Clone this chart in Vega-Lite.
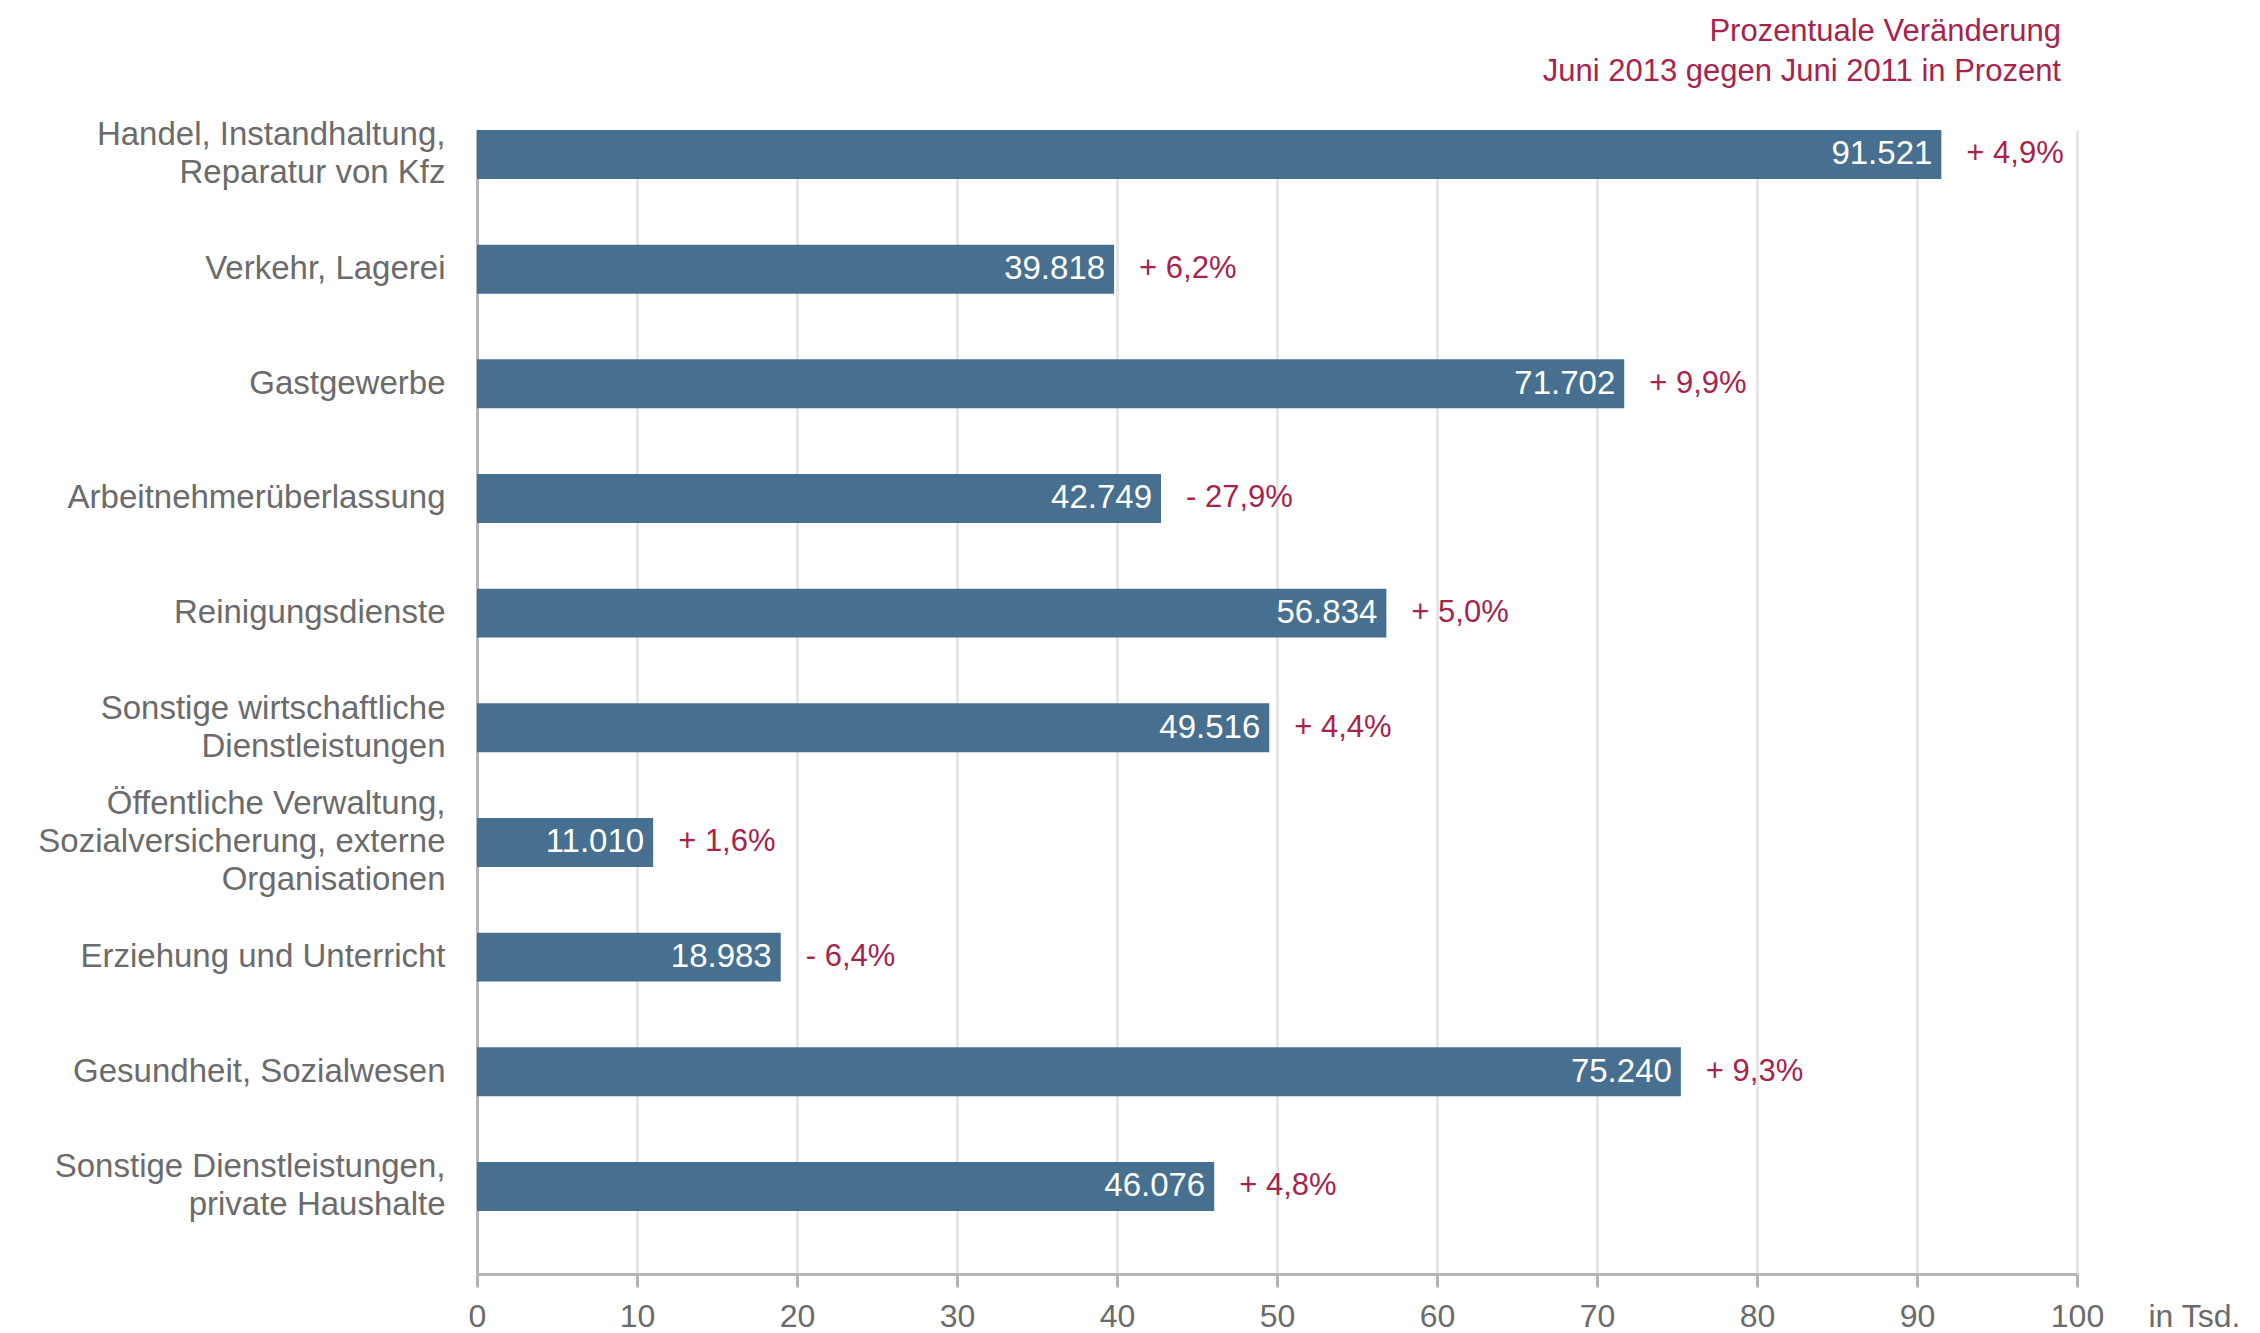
{
  "$schema": "https://vega.github.io/schema/vega-lite/v6.json",
  "autosize": {"type": "none"},
  "padding": {"left": 477, "top": 130, "right": 183, "bottom": 59},
  "width": 1600,
  "height": 1144,
  "config": {
    "locale": {"number": {"decimal": ",", "thousands": ".", "grouping": [3], "currency": ["", " €"]}},
    "view": {"stroke": null},
    "font": "Liberation Sans"
  },
  "title": {
    "text": ["Prozentuale Veränderung", "Juni 2013 gegen Juni 2011 in Prozent"],
    "anchor": "end",
    "frame": "group",
    "color": "#a8234a",
    "font": "Liberation Sans",
    "fontSize": 31,
    "fontWeight": "normal",
    "lineHeight": 40,
    "dx": -16,
    "offset": 31
  },
  "data": {
    "values": [
      {"sector": "Handel, Instandhaltung,|Reparatur von Kfz", "value": 91521, "change": "+ 4,9%"},
      {"sector": "Verkehr, Lagerei", "value": 39818, "change": "+ 6,2%"},
      {"sector": "Gastgewerbe", "value": 71702, "change": "+ 9,9%"},
      {"sector": "Arbeitnehmerüberlassung", "value": 42749, "change": "- 27,9%"},
      {"sector": "Reinigungsdienste", "value": 56834, "change": "+ 5,0%"},
      {"sector": "Sonstige wirtschaftliche|Dienstleistungen", "value": 49516, "change": "+ 4,4%"},
      {"sector": "Öffentliche Verwaltung,|Sozialversicherung, externe|Organisationen", "value": 11010, "change": "+ 1,6%"},
      {"sector": "Erziehung und Unterricht", "value": 18983, "change": "- 6,4%"},
      {"sector": "Gesundheit, Sozialwesen", "value": 75240, "change": "+ 9,3%"},
      {"sector": "Sonstige Dienstleistungen,|private Haushalte", "value": 46076, "change": "+ 4,8%"}
    ]
  },
  "encoding": {
    "y": {
      "field": "sector",
      "type": "nominal",
      "sort": null,
      "scale": {"paddingInner": 0.573, "paddingOuter": 0.275, "align": 0},
      "axis": {
        "title": null,
        "labelExpr": "split(datum.label, '|')",
        "labelFont": "Liberation Sans",
        "labelFontSize": 33,
        "labelColor": "#6b6b6b",
        "labelLineHeight": 38,
        "labelPadding": 32,
        "labelLimit": 600,
        "labelOffset": {
          "condition": [
            {"test": "length(split(datum.value, '|')) == 3", "value": -38},
            {"test": "length(split(datum.value, '|')) == 2", "value": -19}
          ],
          "value": 0
        },
        "ticks": false,
        "grid": false,
        "domainColor": "#b5b5b5",
        "domainWidth": 3
      }
    },
    "x": {
      "field": "value",
      "type": "quantitative",
      "scale": {"domain": [0, 100000], "nice": false},
      "axis": {
        "values": [0, 10000, 20000, 30000, 40000, 50000, 60000, 70000, 80000, 90000, 100000],
        "labelExpr": "format(datum.value / 1000, 'd')",
        "labelFlush": false,
        "labelFont": "Liberation Sans",
        "labelFontSize": 32,
        "labelColor": "#6b6b6b",
        "labelBaseline": "alphabetic",
        "labelPadding": 39,
        "tickSize": 13,
        "tickWidth": 3,
        "tickColor": "#b5b5b5",
        "domainColor": "#b5b5b5",
        "domainWidth": 3,
        "grid": true,
        "gridColor": "#e6e6e6",
        "gridWidth": 3,
        "title": "in Tsd.",
        "titleFont": "Liberation Sans",
        "titleFontSize": 32,
        "titleFontWeight": "normal",
        "titleColor": "#6b6b6b",
        "titleAlign": "left",
        "titleBaseline": "alphabetic",
        "titleAnchor": "start",
        "titleX": 1671,
        "titleY": 52
      }
    }
  },
  "layer": [
    {"mark": {"type": "bar", "color": "#476f8f"}},
    {
      "mark": {"type": "text", "align": "right", "baseline": "middle", "dx": -9, "color": "#ffffff", "font": "Liberation Sans", "fontSize": 33},
      "encoding": {"text": {"field": "value", "type": "quantitative", "format": ",d"}}
    },
    {
      "mark": {"type": "text", "align": "left", "baseline": "middle", "dx": 25, "color": "#a8234a", "font": "Liberation Sans", "fontSize": 31},
      "encoding": {"text": {"field": "change", "type": "nominal"}}
    }
  ]
}
